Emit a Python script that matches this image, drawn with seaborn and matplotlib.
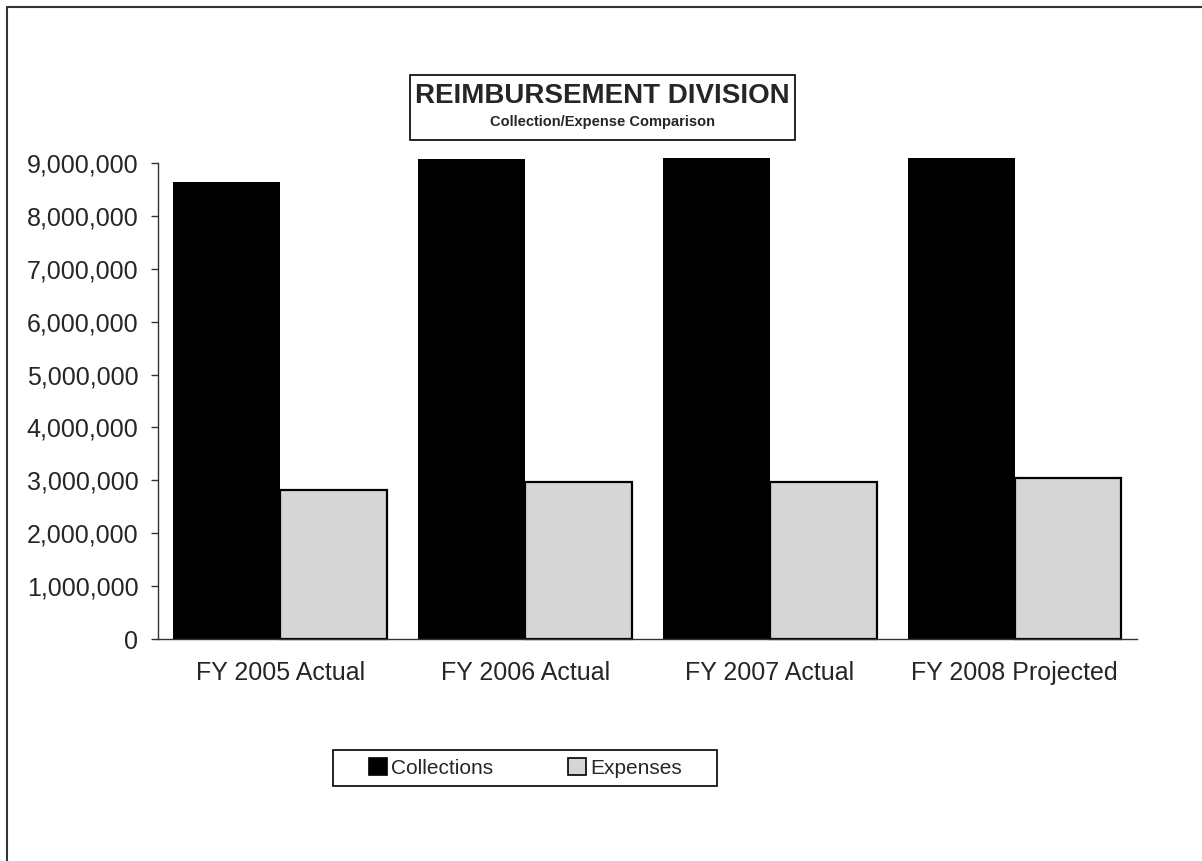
import pandas as pd
import matplotlib
matplotlib.use("Agg")
import matplotlib.pyplot as plt
from matplotlib.patches import Rectangle
from matplotlib.lines import Line2D
import matplotlib.ticker as mticker
import seaborn as sns

# data
years = ["FY 2005 Actual", "FY 2006 Actual", "FY 2007 Actual", "FY 2008 Projected"]
collections = [8640000, 9080000, 9100000, 9100000]
expenses = [2820000, 2970000, 2975000, 3040000]

df = pd.DataFrame({
    "year": years * 2,
    "kind": ["Collections"] * len(years) + ["Expenses"] * len(years),
    "amount": collections + expenses,
})

sns.set_style("white")
plt.rcParams["font.family"] = ["Liberation Sans", "DejaVu Sans"]

fig = plt.figure(figsize=(12.02, 8.61), dpi=100)
ax = fig.add_axes([0.1314, 0.2578, 0.9459 - 0.1314, 0.8107 - 0.2578])

colors = {"Collections": "black", "Expenses": "#d6d6d6"}
sns.barplot(data=df, x="year", y="amount", hue="kind", palette=colors,
            width=0.873, saturation=1, ax=ax, linewidth=0)

# outline the light bars, let bars run past the top like the original
for cont, lbl in zip(ax.containers, ["Collections", "Expenses"]):
    for p in cont:
        p.set_clip_on(False)
        if lbl == "Expenses":
            p.set_edgecolor("black")
            p.set_linewidth(1.6)

ax.set_ylim(0, 9000000)
ax.set_xlim(-0.5, len(years) - 0.5)
ax.yaxis.set_major_locator(mticker.MultipleLocator(1000000))
ax.yaxis.set_major_formatter(mticker.FuncFormatter(lambda v, p: f"{v:,.0f}"))

ax.set_xticks(range(len(years)))
ax.set_xticklabels(years)
ax.set_xticks([i - 0.5 for i in range(len(years) + 1)], minor=True)
ax.tick_params(axis="x", which="major", length=0, pad=16, labelsize=18)
ax.tick_params(axis="x", which="minor", length=5, width=1, direction="out", color="#333333")
ax.tick_params(axis="y", length=5, width=1, direction="out", pad=9, labelsize=18, color="#333333", left=True)
ax.set_xlabel("")
ax.set_ylabel("")

for s in ["top", "right"]:
    ax.spines[s].set_visible(False)
for s in ["left", "bottom"]:
    ax.spines[s].set_color("#333333")
    ax.spines[s].set_linewidth(1)

# legend below the chart, in its own box
handles, labels = ax.get_legend_handles_labels()
ax.get_legend().remove()
leg = fig.legend(handles, labels, loc="center", bbox_to_anchor=(0.437, 0.108),
                 ncol=2, fontsize=15, frameon=False,
                 handlelength=0.85, handleheight=0.85,
                 handletextpad=0.2, columnspacing=3.6, borderaxespad=0)
for h in leg.legend_handles:
    h.set_edgecolor("black")
    h.set_linewidth(1.2)
fig.patches.append(Rectangle((333 / 1202, 1 - 786 / 861), (717 - 333) / 1202, 36 / 861,
                             transform=fig.transFigure, facecolor="none",
                             edgecolor="black", linewidth=1.2, zorder=0))

# boxed title
fig.patches.append(Rectangle((0.341, 0.8374), 0.661 - 0.341, 0.9129 - 0.8374,
                             transform=fig.transFigure, facecolor="white",
                             edgecolor="black", linewidth=1.2))
fig.text(0.501, 0.889, "REIMBURSEMENT DIVISION", ha="center", va="center",
         fontsize=20, fontweight="bold")
fig.text(0.501, 0.8585, "Collection/Expense Comparison", ha="center", va="center",
         fontsize=10.5, fontweight="bold")

# page border (top and left edges only visible)
fig.lines.append(Line2D([0.0058, 1.0], [0.9919, 0.9919], transform=fig.transFigure,
                        color="#333333", linewidth=1.5))
fig.lines.append(Line2D([0.0058, 0.0058], [0.0, 0.9919], transform=fig.transFigure,
                        color="#333333", linewidth=1.5))

fig.savefig("out.png", dpi=100)
